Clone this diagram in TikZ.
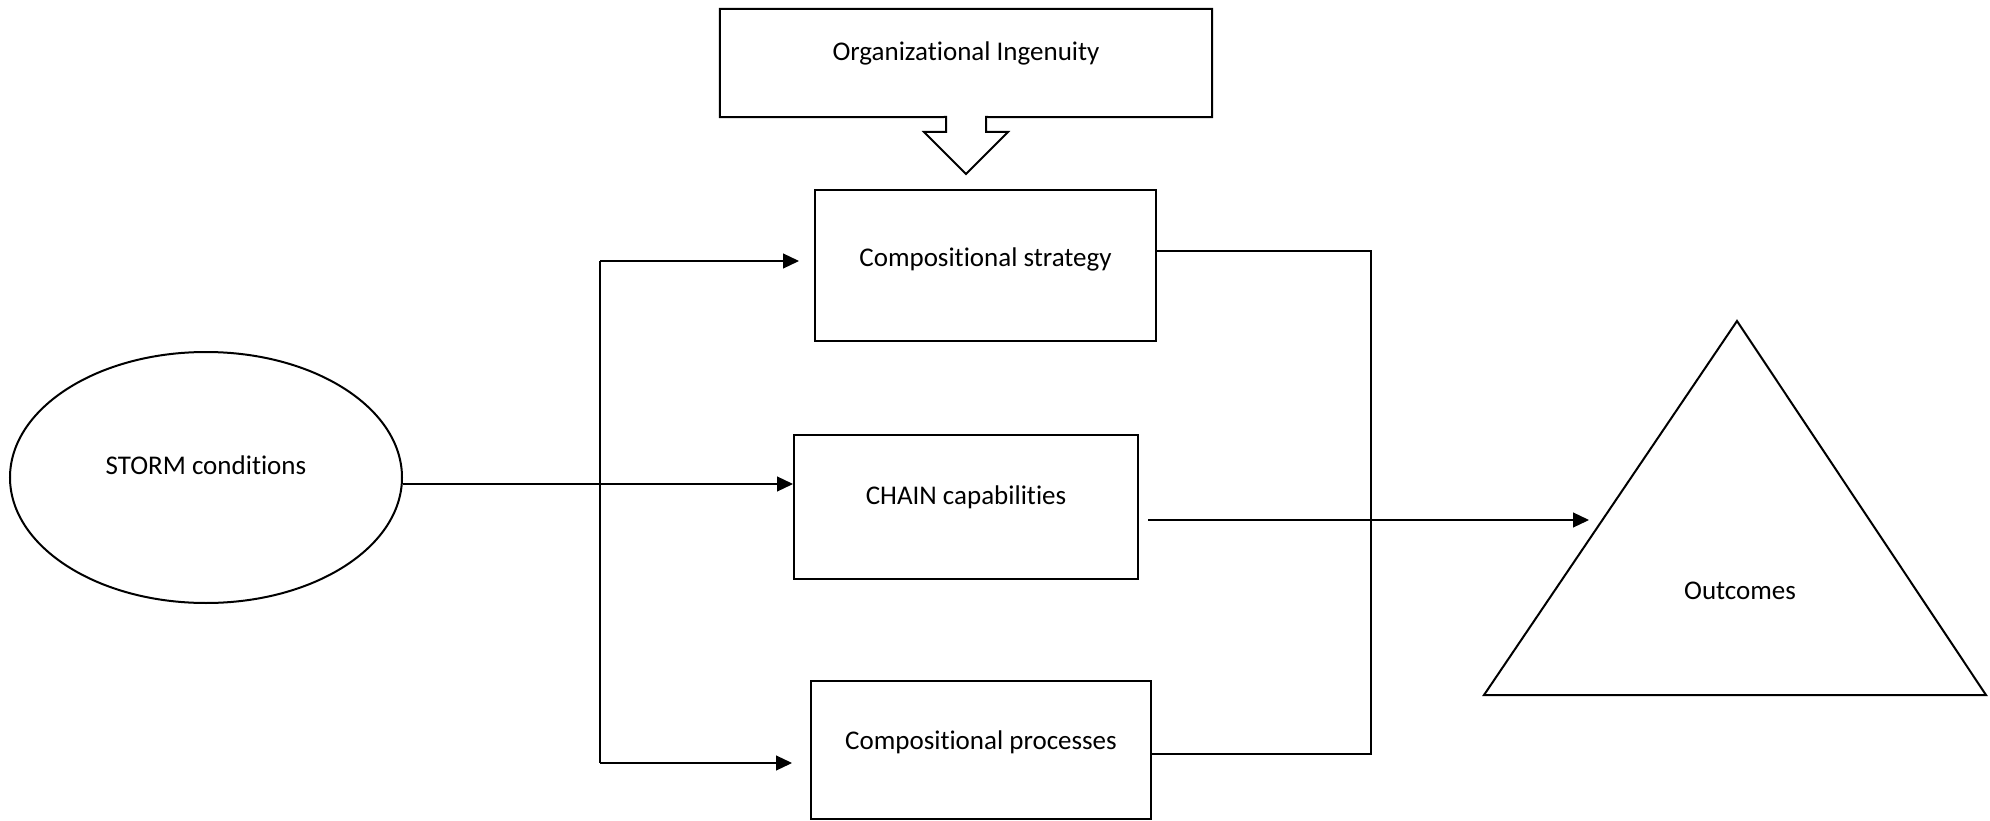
\documentclass[tikz,border=0pt]{standalone}
\usepackage{fontspec}
\setmainfont{Carlito}[Ligatures=NoCommon]
\usetikzlibrary{arrows.meta,shapes.geometric}
\begin{document}
\begin{tikzpicture}[x=1pt,y=-1pt,
  box/.style={draw, line width=2pt, rectangle, inner sep=0pt},
  lbl/.style={anchor=base, font=\fontsize{27}{32}\selectfont, inner sep=0pt},
  conn/.style={line width=1.2pt},
  tip/.style={-{Triangle[length=16pt,width=15pt]}}]
\useasboundingbox (0,0) rectangle (1990,821);

% Organizational ingenuity: box with a downward arrow at its base
\node[inner sep=0pt, minimum width=492pt, minimum height=108pt] (ingenuity) at (966,63) {};
\draw[line width=2pt, line join=miter]
  (ingenuity.north west) -- (ingenuity.north east) -- (ingenuity.south east)
  -- (986,117) -- (986,132) -- (1008,132) -- (966,174) -- (924,132) -- (946,132)
  -- (946,117) -- (ingenuity.south west) -- cycle;
\node[lbl] at (966,61) {Organizational Ingenuity};

% STORM conditions
\node[draw, ellipse, line width=2pt, inner sep=0pt,
      minimum width=392pt, minimum height=251pt] (storm) at (206,477.5) {};
\node[lbl] at (206,474) {STORM conditions};

% Middle column
\node[box, minimum width=341pt, minimum height=151pt] (strategy) at (985.5,265.5) {};
\node[lbl] at (985.5,266) {Compositional strategy};

\node[box, minimum width=344pt, minimum height=144pt] (chain) at (966,507) {};
\node[lbl] at (966,504) {CHAIN capabilities};

\node[box, minimum width=340pt, minimum height=138pt] (processes) at (981,750) {};
\node[lbl] at (981,749) {Compositional processes};

% Outcomes triangle
\coordinate (tl) at (1484,695);
\coordinate (ttop) at (1737,321);
\coordinate (tr) at (1986,695);
\draw[line width=2pt, line join=miter] (tl) -- (ttop) -- (tr) -- cycle;
\node[lbl] (outcomes) at (1740,599) {Outcomes};

% Connectors
\coordinate (j) at (600,484);
\coordinate (jt) at (600,261);
\coordinate (jb) at (600,763);
\coordinate (rt) at (1371,251);
\coordinate (rb) at (1371,754);
\coordinate (cs) at (1148,520);
\coordinate (oin) at (1589,520);

\draw[line width=2pt] (storm.east |- j) -- (j);
\draw[conn,tip] (j) -- (chain.west |- j);
\draw[conn] (jt) -- (jb);
\draw[conn,tip] (jt) -- ([xshift=-15pt]strategy.west |- jt);
\draw[conn,tip] (jb) -- ([xshift=-18pt]processes.west |- jb);
\draw[conn] (strategy.east |- rt) -- (rt) -- (rb) -- (processes.east |- rb);
\draw[conn,tip] (cs) -- (oin);
\end{tikzpicture}
\end{document}
